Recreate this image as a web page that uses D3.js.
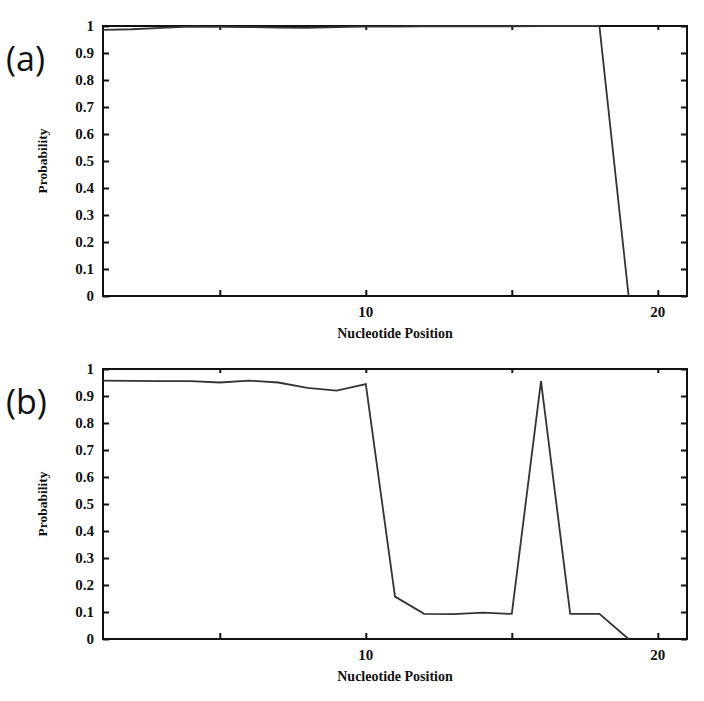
<!DOCTYPE html>
<html>
<head>
<meta charset="utf-8">
<script src="https://cdn.jsdelivr.net/npm/d3@7"></script>
<style>
  body { margin: 0; background: #fff; }
  svg { display: block; }
</style>
</head>
<body>
<svg id="chart"></svg>
<script>
var width = 704, height = 701;

// nucleotide positions 1..19
var positions = [1, 2, 3, 4, 5, 6, 7, 8, 9, 10, 11, 12, 13, 14, 15, 16, 17, 18, 19];
var probA = [0.986, 0.988, 0.993, 0.998, 0.997, 0.996, 0.994, 0.993, 0.996, 0.998, 0.998, 0.999, 0.999, 0.999, 0.999, 1, 1, 1, 0];
var probB = [0.957, 0.956, 0.955, 0.955, 0.95, 0.957, 0.95, 0.93, 0.92, 0.944, 0.157, 0.093, 0.092, 0.098, 0.093, 0.955, 0.093, 0.093, 0];
var yTicks = [0, 0.1, 0.2, 0.3, 0.4, 0.5, 0.6, 0.7, 0.8, 0.9, 1];
var xTicks = [5, 10, 15, 20];
var xTickLabels = ["", "10", "", "20"];
var panelLabels = ["(a)", "(b)"];

var svg = d3.select("#chart").attr("width", width).attr("height", height);

var left = 103, right = 687, plotH = 270;
var panels = [
  { top: 26, data: probA, label: panelLabels[0] },
  { top: 369, data: probB, label: panelLabels[1] }
];

var x = d3.scaleLinear().domain([1, 21]).range([left, right]);

panels.forEach(function (p) {
  var y = d3.scaleLinear().domain([0, 1]).range([p.top + plotH, p.top]);
  var g = svg.append("g");

  // inward ticks
  var yAxisL = d3.axisRight(y).tickValues(yTicks).tickSize(6).tickFormat("");
  var yAxisR = d3.axisLeft(y).tickValues(yTicks).tickSize(6).tickFormat("");
  var xAxisB = d3.axisTop(x).tickValues(xTicks).tickSize(6).tickFormat("");
  var xAxisT = d3.axisBottom(x).tickValues(xTicks).tickSize(4).tickFormat("");

  g.append("g").attr("transform", "translate(" + left + ",0)").call(yAxisL);
  g.append("g").attr("transform", "translate(" + right + ",0)").call(yAxisR);
  g.append("g").attr("transform", "translate(0," + (p.top + plotH) + ")").call(xAxisB);
  g.append("g").attr("transform", "translate(0," + p.top + ")").call(xAxisT);
  g.selectAll(".domain").remove();
  g.selectAll(".tick line").attr("stroke", "#111").attr("stroke-width", 2);

  g.append("rect")
    .attr("x", left).attr("y", p.top)
    .attr("width", right - left).attr("height", plotH)
    .attr("fill", "none").attr("stroke", "#111").attr("stroke-width", 2);

  // y tick labels
  g.selectAll(".ylab").data(yTicks).enter().append("text")
    .attr("x", 94).attr("y", function (d) { return y(d) + 5; })
    .attr("text-anchor", "end")
    .attr("font-family", "Liberation Serif, serif").attr("font-weight", "bold")
    .attr("font-size", 15).attr("fill", "#111")
    .text(function (d) { return d3.format("")(d); });

  // x tick labels
  g.selectAll(".xlab").data(xTicks).enter().append("text")
    .attr("x", function (d) { return x(d); })
    .attr("y", p.top + plotH + 21)
    .attr("text-anchor", "middle")
    .attr("font-family", "Liberation Serif, serif").attr("font-weight", "bold")
    .attr("font-size", 15).attr("fill", "#111")
    .text(function (d, i) { return xTickLabels[i]; });

  g.append("text")
    .attr("x", 395).attr("y", p.top + plotH + 42)
    .attr("text-anchor", "middle")
    .attr("font-family", "Liberation Serif, serif").attr("font-weight", "bold")
    .attr("font-size", 14).attr("fill", "#111")
    .text("Nucleotide Position");

  g.append("text")
    .attr("transform", "translate(47," + (p.top + plotH / 2) + ") rotate(-90)")
    .attr("text-anchor", "middle")
    .attr("font-family", "Liberation Serif, serif").attr("font-weight", "bold")
    .attr("font-size", 13.5).attr("fill", "#111")
    .text("Probability");

  g.append("text")
    .attr("x", 6).attr("y", p.top + 45)
    .attr("font-family", "Open Sans, sans-serif")
    .attr("font-size", 34).attr("fill", "#111")
    .text(p.label);

  var line = d3.line()
    .x(function (d, i) { return x(positions[i]); })
    .y(function (d) { return y(d); });

  g.append("path")
    .datum(p.data)
    .attr("d", line)
    .attr("fill", "none")
    .attr("stroke", "#333")
    .attr("stroke-width", 1.8);
});
</script>
</body>
</html>
